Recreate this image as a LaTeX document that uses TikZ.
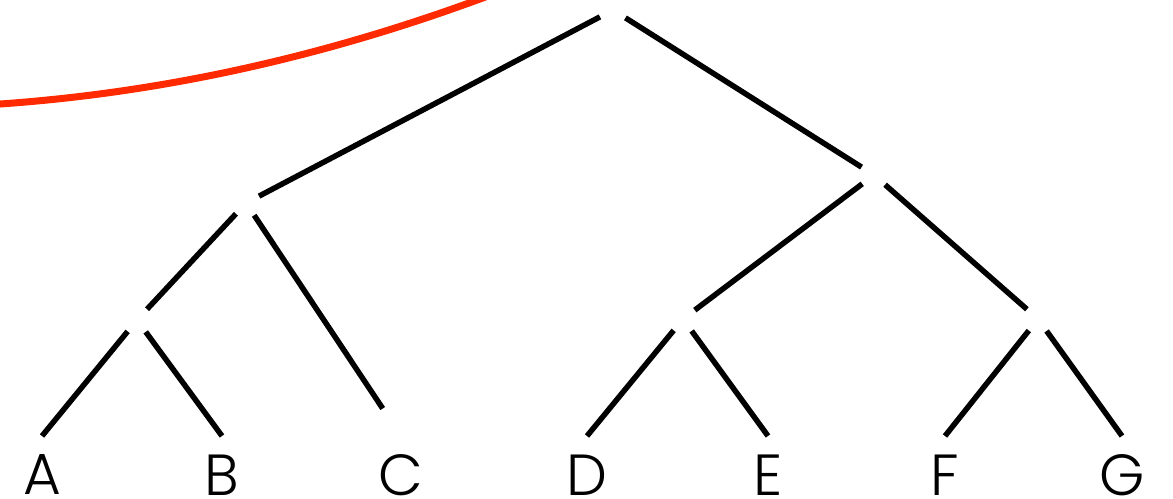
\documentclass[tikz,border=0pt]{standalone}
\usepackage{fontspec}
\setmainfont{Poppins}[UprightFont={* Light}]
\usepackage{xcolor}
\usetikzlibrary{positioning}
\definecolor{curveRed}{HTML}{FF2A00}

\begin{document}
\begin{tikzpicture}[x=0.02cm, y=-0.02cm, line width=0.11cm,
  branch/.style={circle, inner sep=0pt, minimum size=0.48cm},
  leaf/.style={anchor=north, inner sep=0pt, font=\fontsize{33}{40}\selectfont}]
\clip (0,0) rectangle (1173,499);
% red arc at the top left
\draw[curveRed, line width=0.14cm] (-20,105.3) .. controls (153.3,95.3) and (326.7,57.4) .. (500,-8.5);
% branch points
\node[branch] (root) at (613,10) {};
\node[branch] (abc) at (246,203) {};
\node[branch] (ab) at (137,320) {};
\node[branch] (defg) at (874,175) {};
\node[branch] (de) at (683,319) {};
\node[branch] (fg) at (1038,319) {};
% leaves
\node[leaf] (A) at (42,452) {A};
\node[leaf] (B) at (222,452) {B};
\node[leaf] (C) at (401,452) {C};
\node[leaf] (D) at (587,452) {D};
\node[leaf] (E) at (768,452) {E};
\node[leaf] (F) at (945,452) {F};
\node[leaf] (G) at (1122,452) {G};
% edges
\draw (root) -- (abc);
\draw (root) -- (defg);
\draw (abc) -- (ab);
\draw[shorten >=0.66cm] (abc) -- ([yshift=0.32cm]C.north);
\draw (ab) -- ([yshift=0.32cm]A.north);
\draw (ab) -- ([yshift=0.32cm]B.north);
\draw (defg) -- (de);
\draw (defg) -- (fg);
\draw (de) -- ([yshift=0.32cm]D.north);
\draw (de) -- ([yshift=0.32cm]E.north);
\draw (fg) -- ([yshift=0.32cm]F.north);
\draw (fg) -- ([yshift=0.32cm]G.north);
\end{tikzpicture}
\end{document}
